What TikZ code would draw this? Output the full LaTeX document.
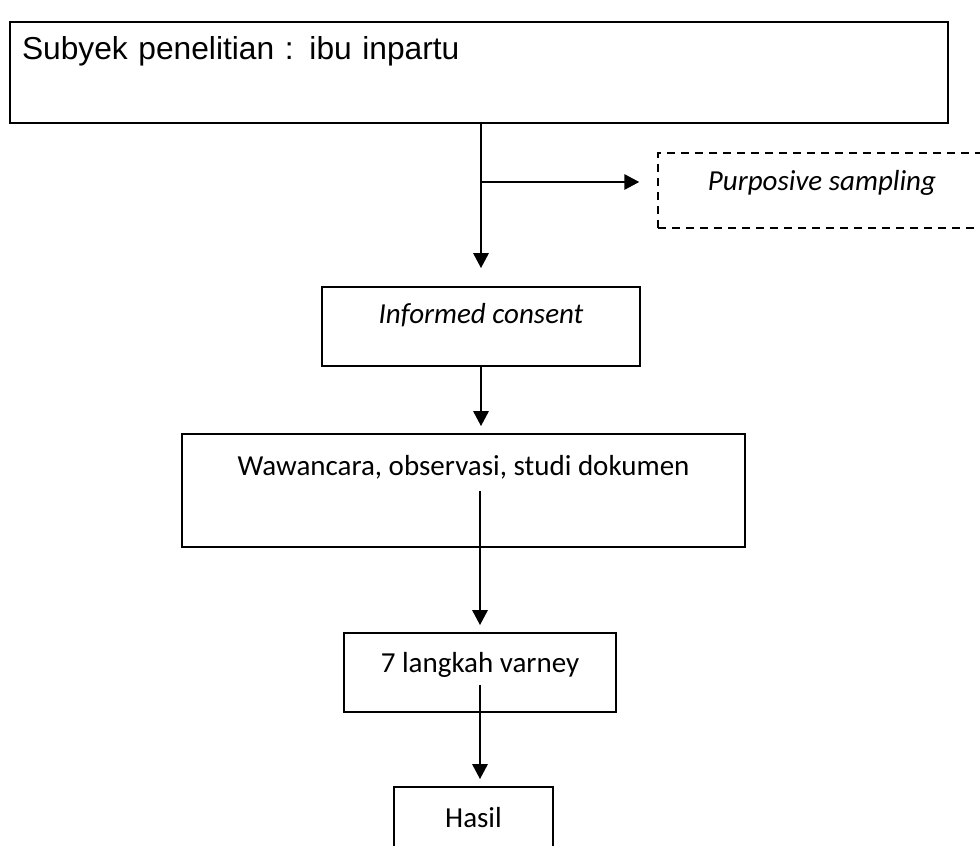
\documentclass[tikz,border=0pt]{standalone}
\usepackage{fontspec}
\setmainfont{Carlito}
\newfontfamily\arialfont{Liberation Sans}
\usetikzlibrary{
  arrows.meta,
  calc,
  positioning
}

\tikzset{
  kotak/.style={draw, line width=1.4pt, inner sep=0pt, align=center,
    font=\fontsize{21.75}{26}\selectfont},
  kotakputus/.style={kotak, line width=1.1pt, dash pattern=on 6pt off 4.5pt},
  panah/.style={line width=1.6pt, -{Triangle[length=11.25pt, width=11.5pt]}},
  garis/.style={line width=1.6pt}
}

\begin{document}
\begin{tikzpicture}[x=0.75pt, y=-0.75pt]
  \clip (0,0) rectangle (980,845);

  % Boxes
  \node[kotak, align=left, inner xsep=9pt, text width=685.5pt,
    text height=28.5pt, text depth=47.25pt,
    font=\arialfont\fontsize{23.8}{28}\selectfont] (subjek) at (479,72.5)
    {Subyek penelitian : ibu inpartu};
  \node[kotakputus, minimum width=246pt, text height=27.75pt, text depth=28.5pt]
    (sampling) at (822,190.5) {\itshape Purposive sampling};
  \node[kotak, minimum width=238.5pt, text height=27pt, text depth=32.25pt]
    (infcons) at (481,326.5) {\itshape Informed consent};
  \node[kotak, minimum width=422.25pt, text height=30.75pt, text depth=54pt]
    (wawancara) at (463.5,490.5) {Wawancara, observasi, studi dokumen};
  \node[kotak, minimum width=204pt, text height=29.25pt, text depth=30pt]
    (langkah) at (480,672.5) {7 langkah varney};
  \node[kotak, minimum width=119.25pt, text height=30pt, text depth=30pt]
    (hasil) at (473.5,827) {Hasil};

  % Connectors
  \coordinate (cabang) at (481,182);
  \draw[panah, shorten >=13.5pt] (subjek.south -| infcons.north) -- (infcons.north);
  \draw[panah, shorten >=13.5pt] (cabang) -- (cabang -| sampling.west);
  \draw[panah, shorten >=5.25pt] (infcons.south) -- (infcons.south |- wawancara.north);
  \draw[panah, shorten >=5.25pt] (wawancara.center -| langkah.north) -- (langkah.north);
  \draw[panah, shorten <=9pt, shorten >=5.25pt] (langkah.center) -- (langkah.center |- hasil.north);
\end{tikzpicture}
\end{document}
